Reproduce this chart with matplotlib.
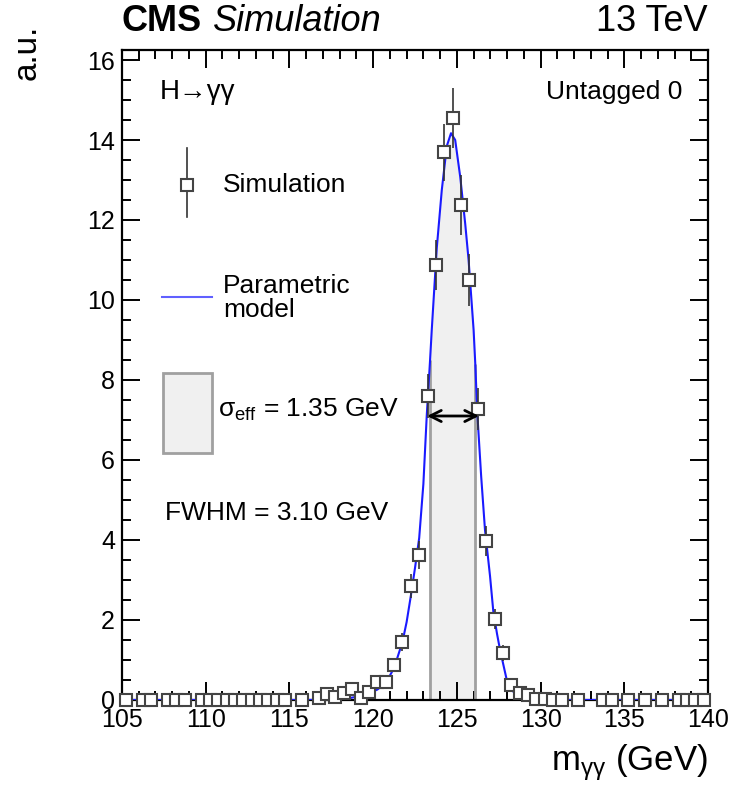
import numpy as np
import matplotlib
matplotlib.use("Agg")
import matplotlib.pyplot as plt
from matplotlib.patches import Rectangle
from matplotlib.lines import Line2D

plt.rcParams['font.family'] = ['Liberation Sans', 'DejaVu Sans']
plt.rcParams['mathtext.fontset'] = 'custom'
plt.rcParams['mathtext.rm'] = 'Liberation Sans'
plt.rcParams['mathtext.it'] = 'Liberation Sans:italic'

# simulated events, 0.5 GeV bins (bin centres)
sim_x = [105.25, 106.25, 106.75, 107.75, 108.25, 108.75, 109.75, 110.25, 110.75,
         111.25, 111.75, 112.25, 112.75, 113.25, 113.75, 114.25, 114.75, 115.75,
         116.75, 117.25, 117.75, 118.25, 118.75, 119.25, 119.75, 120.25, 120.75,
         121.25, 121.75, 122.25, 122.75, 123.25, 123.75, 124.25, 124.75, 125.25,
         125.75, 126.25, 126.75, 127.25, 127.75, 128.25, 128.75, 129.25, 129.75,
         130.25, 130.75, 131.25, 132.25, 133.75, 134.25, 135.25, 136.25, 137.25,
         138.25, 138.75, 139.25, 139.75]
sim_y = [0, 0, 0, 0, 0, 0, 0, 0, 0,
         0, 0, 0, 0, 0, 0, 0, 0, 0,
         0.06, 0.15, 0.08, 0.18, 0.27, 0.05, 0.20, 0.44, 0.44,
         0.87, 1.45, 2.85, 3.62, 7.61, 10.88, 13.69, 14.54, 12.38,
         10.50, 7.28, 3.97, 2.02, 1.17, 0.37, 0.18, 0.12, 0.03,
         0.02, 0, 0, 0, 0, 0, 0, 0, 0,
         0, 0, 0, 0]
sim_err = [0, 0, 0, 0, 0, 0, 0, 0, 0,
           0, 0, 0, 0, 0, 0, 0, 0, 0,
           0.05, 0.08, 0.06, 0.08, 0.10, 0.05, 0.09, 0.12, 0.12,
           0.18, 0.22, 0.30, 0.35, 0.55, 0.62, 0.72, 0.75, 0.75,
           0.65, 0.52, 0.37, 0.25, 0.20, 0.12, 0.08, 0.07, 0.04,
           0.03, 0, 0, 0, 0, 0, 0, 0, 0,
           0, 0, 0, 0]

# parametric model
model_x = [105.0, 116.0, 117.5, 118.5, 119.25, 119.75, 120.25, 120.75, 121.25,
           121.75, 122.0, 122.25, 122.5, 122.75, 123.0, 123.2, 123.4, 123.5,
           123.8, 124.1, 124.4, 124.65, 124.9, 125.2, 125.5, 125.7, 126.0,
           126.1, 126.22, 126.45, 126.68, 126.98, 127.18, 127.4, 127.58, 127.98,
           128.36, 128.95, 129.77, 131.0, 140.0]
model_y = [0.0, 0.0, 0.01, 0.04, 0.10, 0.17, 0.26, 0.42, 0.80,
           1.45, 1.95, 2.60, 3.30, 4.05, 5.40, 7.10, 8.50, 9.25,
           11.30, 12.75, 13.85, 14.17, 14.00, 13.08, 11.90, 11.00, 9.25,
           8.40, 7.17, 5.60, 4.25, 3.10, 2.20, 1.65, 1.25, 0.50,
           0.21, 0.08, 0.02, 0.0, 0.0]

sigma_eff_lo, sigma_eff_hi = 123.4, 126.1
fwhm_lo, fwhm_hi, half_max = 123.22, 126.32, 7.1

model_x = np.array(model_x)
model_y = np.array(model_y)

fig = plt.figure(figsize=(7.37, 7.85), dpi=100)
ax = fig.add_axes([0.1655, 0.1083, 0.7952, 0.828])

# sigma_eff band under the curve
inband = (model_x >= sigma_eff_lo) & (model_x <= sigma_eff_hi)
ax.fill_between(model_x[inband], 0, model_y[inband], color='#f0f0f0', lw=0, zorder=1)
edge_h = np.interp([sigma_eff_lo, sigma_eff_hi], model_x, model_y)
ax.vlines([sigma_eff_lo, sigma_eff_hi], 0, edge_h, color='#a0a0a0', lw=2, zorder=2)

ax.plot(model_x, model_y, color='#1a1aff', lw=1.5, zorder=3)

ax.errorbar(sim_x, sim_y, yerr=sim_err, fmt='s', ms=8.5, mfc='white', mec='#444444',
            mew=1.5, ecolor='#333333', elinewidth=1.2, capsize=0, zorder=4, clip_on=False)

ax.annotate('', xy=(fwhm_lo, half_max), xytext=(fwhm_hi, half_max),
            arrowprops=dict(arrowstyle='<->', lw=2, color='black',
                            shrinkA=0, shrinkB=0, mutation_scale=20), zorder=5)

ax.set_xlim(105, 140)
ax.set_ylim(0, 16.25)
ax.set_xticks(np.arange(105, 141, 5))
ax.set_xticks(np.arange(105, 141, 1), minor=True)
ax.set_yticks(np.arange(0, 17, 2))
ax.set_yticks(np.arange(0, 16.3, 0.5), minor=True)
ax.tick_params(which='both', direction='in', top=True, right=True, width=1.4, labelsize=18)
ax.tick_params(which='major', length=13)
ax.tick_params(which='minor', length=6.5)
ax.tick_params(axis='x', pad=6)
ax.tick_params(axis='y', pad=5)
for sp in ax.spines.values():
    sp.set_linewidth(1.6)

# legend, drawn by hand
T = ax.transAxes
ax.add_line(Line2D([0.111, 0.111], [0.743, 0.849], color='#333333', lw=1.2, transform=T))
ax.plot([0.111], [0.792], 's', ms=8.5, mfc='white', mec='#444444', mew=1.5, transform=T)
ax.text(0.172, 0.792, 'Simulation', transform=T, fontsize=19, va='center')
ax.add_line(Line2D([0.068, 0.154], [0.62, 0.62], color='#6060ff', lw=1.5, transform=T))
ax.text(0.172, 0.618, 'Parametric\nmodel', transform=T, fontsize=19, va='center',
        linespacing=1.0)
ax.add_patch(Rectangle((0.07, 0.380), 0.084, 0.123, transform=T, facecolor='#f0f0f0',
                       edgecolor='#a0a0a0', lw=2))
ax.text(0.164, 0.446, r'$\mathregular{\sigma_{eff}}$ = 1.35 GeV', transform=T,
        fontsize=19, va='center')
ax.text(0.073, 0.288, 'FWHM = 3.10 GeV', transform=T, fontsize=19, va='center')
ax.text(0.065, 0.935, 'H→γγ', transform=T, fontsize=20, va='center')
ax.text(0.957, 0.935, 'Untagged 0', transform=T, fontsize=19, va='center', ha='right')

fig.text(0.1655, 0.972, 'CMS', fontsize=26, fontweight='bold', va='center')
fig.text(0.289, 0.972, 'Simulation', fontsize=26, style='italic', va='center')
fig.text(0.9607, 0.972, '13 TeV', fontsize=26, va='center', ha='right')

fig.text(0.9607, 0.029, r'$\mathregular{m_{\gamma\gamma}}$ (GeV)', fontsize=25,
         va='center', ha='right')
fig.text(0.037, 0.968, 'a.u.', fontsize=24, rotation=90, va='top', ha='center')

fig.savefig('out.png', dpi=100)
